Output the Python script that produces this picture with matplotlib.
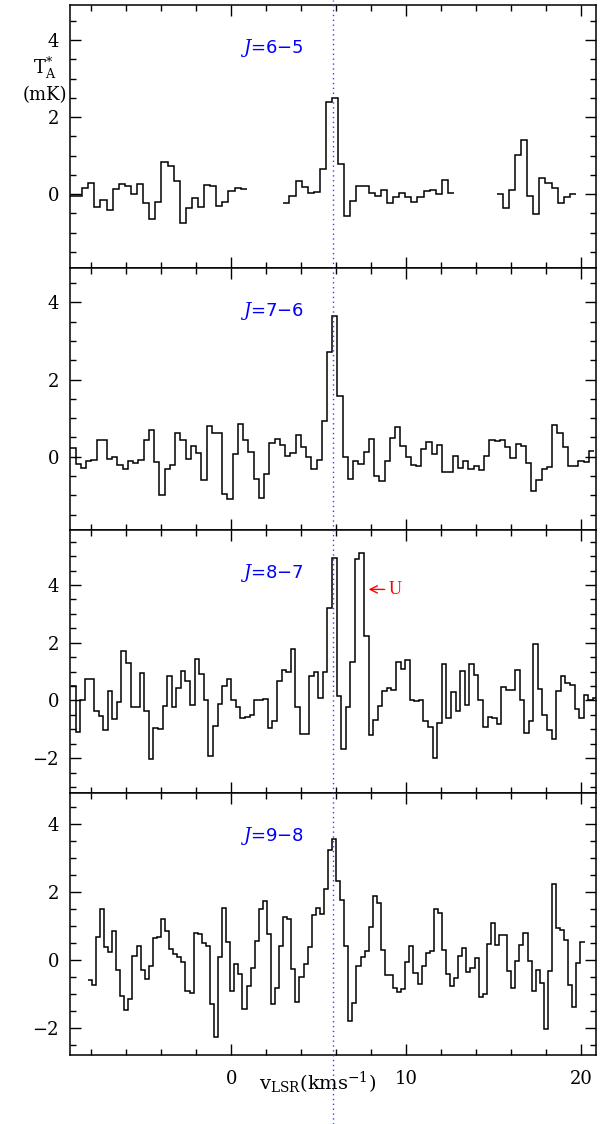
import numpy as np
import matplotlib
matplotlib.use("Agg")
import matplotlib.pyplot as plt
from matplotlib.transforms import blended_transform_factory

plt.rcParams["font.family"] = "DejaVu Serif"
plt.rcParams["mathtext.fontset"] = "dejavuserif"

# systemic velocity (dotted line) in km/s
v_sys = 5.83

# transitions, channel start velocity and channel width (km/s)
transitions = ["6-5", "7-6", "8-7", "9-8"]
v_start = [-9.2, -9.18, -9.14, -8.19]
dv = [0.348, 0.299, 0.2613, 0.2325]
ylims = [(-1.92, 4.91), (-1.9, 4.89), (-3.21, 5.91), (-2.8, 4.9)]
ylabels_ticks = [[0, 2, 4], [0, 2, 4], [-2, 0, 2, 4], [-2, 0, 2, 4]]

# antenna temperature (mK) per channel; nan = no data
t_65 = [-0.04, -0.04, 0.17, 0.28, -0.33, -0.16, -0.42, 0.12, 0.25, 0.21,
        0.0, 0.25, -0.24, -0.64, -0.2, 0.82, 0.74, 0.33, -0.76, -0.37,
        -0.09, -0.34, 0.23, 0.22, -0.32, -0.2, 0.08, 0.16, 0.12,
        np.nan, np.nan, np.nan, np.nan, np.nan, np.nan,
        -0.24, -0.05, 0.35, 0.18, 0.03, 0.05, 0.64, 2.39, 2.49, 0.77,
        -0.57, -0.17, 0.22, 0.22, 0.04, -0.06, 0.10, -0.23, -0.07, 0.04,
        -0.07, -0.21, -0.07, 0.07, 0.10, -0.01, 0.37, 0.04,
        np.nan, np.nan, np.nan, np.nan, np.nan, np.nan, np.nan,
        -0.01, -0.37, 0.11, 1.01, 1.41, -0.05, -0.53, 0.43, 0.29, 0.15,
        -0.22, -0.08, 0.01]

t_76 = [0.22, -0.19, -0.29, -0.10, -0.08, 0.44, 0.44, -0.06, 0.0, -0.21,
        -0.33, -0.10, -0.17, -0.08, 0.44, 0.69, -0.13, -0.98, -0.32, -0.21,
        0.62, 0.44, -0.06, 0.27, 0.10, -0.60, 0.80, 0.61, 0.61, -0.97,
        -1.09, 0.06, 0.85, 0.43, 0.13, -0.57, -1.07, -0.44, 0.35, 0.47,
        0.30, 0.03, 0.10, 0.56, 0.24, -0.02, -0.33, -0.09, 0.93, 2.71,
        3.64, 1.58, -0.02, -0.58, -0.12, -0.20, 0.13, 0.46, -0.50, -0.62,
        -0.10, 0.48, 0.78, 0.27, -0.02, -0.21, -0.23, 0.19, 0.39, 0.08,
        0.31, -0.40, -0.39, 0.03, -0.30, -0.10, -0.33, -0.23, -0.35, 0.02,
        0.44, 0.41, 0.44, 0.24, -0.04, 0.33, 0.27, -0.17, -0.88, -0.60,
        -0.33, -0.26, 0.83, 0.61, 0.26, -0.24, -0.25, -0.10, -0.14, 0.15]

t_87 = [0.49, -1.08, 0.02, 0.74, 0.74, -0.36, -0.53, -1.01, 0.31, -0.66,
        -0.06, 1.70, 1.31, -0.23, -0.24, 0.96, -0.36, -2.02, -0.97, -0.99,
        -0.20, 0.83, -0.24, 0.42, 1.03, 0.69, -0.16, 1.43, 0.92, 0.03,
        -1.94, -0.89, -0.14, 0.49, 0.76, 0.03, -0.24, -0.62, -0.58, -0.49,
        0.03, 0.03, 0.06, -0.96, -0.72, 0.69, 1.04, 0.97, 1.79, -0.22,
        -1.18, -1.16, 0.86, 0.97, 0.10, 0.99, 3.21, 4.95, 0.16, -1.68,
        -0.22, 1.32, 4.91, 5.11, 2.22, -1.19, -0.69, -0.21, 0.31, 0.44,
        0.37, 1.32, 1.09, 1.40, 0.02, -0.01, 0.0, -0.72, -0.91, -1.98,
        -0.77, 1.26, -0.62, 0.28, -0.37, 1.03, -0.16, 1.25, 0.89, 0.01,
        -0.92, -0.58, -0.62, -0.81, 0.46, 0.35, 0.37, 1.06, 0.02, -1.14,
        -0.73, 1.94, 0.38, -0.52, -1.03, -1.33, 0.32, 0.83, 0.59, 0.54,
        -0.31, -0.61, 0.20, 0.0, 0.10]

t_98 = [-0.59, -0.75, 0.68, 1.50, 0.36, 0.22, 0.85, -0.31, -1.08, -1.48,
        -1.14, 0.12, 0.41, -0.31, -0.56, -0.18, 0.63, 0.67, 1.20, 0.85,
        0.31, 0.18, 0.07, -0.07, -0.92, -0.97, 0.79, 0.76, 0.50, 0.40,
        -1.31, -2.27, 0.09, 1.53, 0.53, -0.93, -0.12, -0.41, -1.44, -0.78,
        -0.23, 0.56, 1.50, 1.74, 0.76, -1.30, -0.83, 0.41, 1.26, 1.21,
        -0.26, -1.25, -0.51, -0.12, 0.36, 1.31, 1.51, 1.33, 2.09, 3.23,
        3.56, 2.32, 1.75, 0.40, -1.79, -1.28, -0.17, 0.07, 0.25, 0.97,
        1.88, 1.68, 0.29, -0.45, -0.45, -0.83, -0.94, -0.87, -0.08, 0.41,
        -0.39, -0.71, -0.18, 0.19, 0.25, 1.48, 1.38, 0.30, -0.41, -0.78,
        -0.54, 0.10, 0.33, -0.36, -0.23, 0.04, -1.09, -1.02, 0.46, 1.07,
        0.43, 0.72, 0.72, -0.34, -0.83, -0.03, 0.43, 0.78, -0.04, -0.92,
        -0.30, -0.67, -2.05, -0.33, 2.22, 0.92, 0.87, 0.57, -0.74, -1.39,
        -0.09, 0.53]

spectra = [t_65, t_76, t_87, t_98]

W, H = 607, 1124
fig = plt.figure(figsize=(W / 100, H / 100), dpi=100)

left, right = 70, 596
tops = [5, 268, 530, 793]
bottoms = [268, 530, 793, 1055]

axes = []
for i, spec in enumerate(spectra):
    ax = fig.add_axes([left / W, 1 - bottoms[i] / H,
                       (right - left) / W, (bottoms[i] - tops[i]) / H])
    vals = np.array(spec, dtype=float)
    edges = v_start[i] + dv[i] * np.arange(len(vals) + 1)
    ax.stairs(vals, edges, color="black", lw=1.1, baseline=None)
    ax.set_xticks([0, 10, 20])
    ax.set_xticks(np.arange(-8, 21, 2), minor=True)
    ax.set_yticks(ylabels_ticks[i])
    ax.set_yticks(np.arange(-3, 6.01, 0.5), minor=True)
    ax.set_xlim(-9.2, 20.83)
    ax.set_ylim(*ylims[i])
    ax.tick_params(which="both", direction="in", top=True, right=True,
                   labelsize=13, width=1.0)
    ax.tick_params(which="major", length=8)
    ax.tick_params(which="minor", length=4)
    ax.tick_params(axis="y", pad=8)
    ax.tick_params(axis="x", pad=11)
    if i < 3:
        ax.tick_params(labelbottom=False)
    ax.set_yticklabels([("\u2212" + str(-t)) if t < 0 else str(t)
                        for t in ylabels_ticks[i]])
    for s in ax.spines.values():
        s.set_linewidth(1.1)
    ax.text(2.34, 0.835, r"$J$=" + transitions[i].replace("-", "\u2212"),
            transform=blended_transform_factory(ax.transData, ax.transAxes),
            color="blue", fontsize=13, family="DejaVu Sans",
            ha="center", va="center")
    axes.append(ax)

# unidentified line marker
axes[2].annotate("U", xy=(7.85, 3.85), xytext=(9.0, 3.85),
                 color="red", fontsize=13, va="center", ha="left",
                 family="Liberation Serif",
                 arrowprops=dict(arrowstyle="->", color="red", lw=1.0,
                                 shrinkA=1, shrinkB=0))

# systemic velocity line across whole figure
trans = blended_transform_factory(axes[3].transData, fig.transFigure)
fig.add_artist(plt.Line2D([v_sys, v_sys], [0, 1], transform=trans,
                          color="#3a3aff", ls=(0, (1, 2.5)), lw=1.0))

fig.text(45 / W, 1 - 68 / H, r"T$_{\rm A}^{*}$", fontsize=13,
         ha="center", va="center")
fig.text(45 / W, 1 - 95 / H, "(mK)", fontsize=13, ha="center", va="center")
fig.text(318 / W, 1 - 1083 / H, r"v$_{\rm LSR}$(kms$^{-1}$)", fontsize=14,
         ha="center", va="center")

fig.savefig("out.png", dpi=100)
